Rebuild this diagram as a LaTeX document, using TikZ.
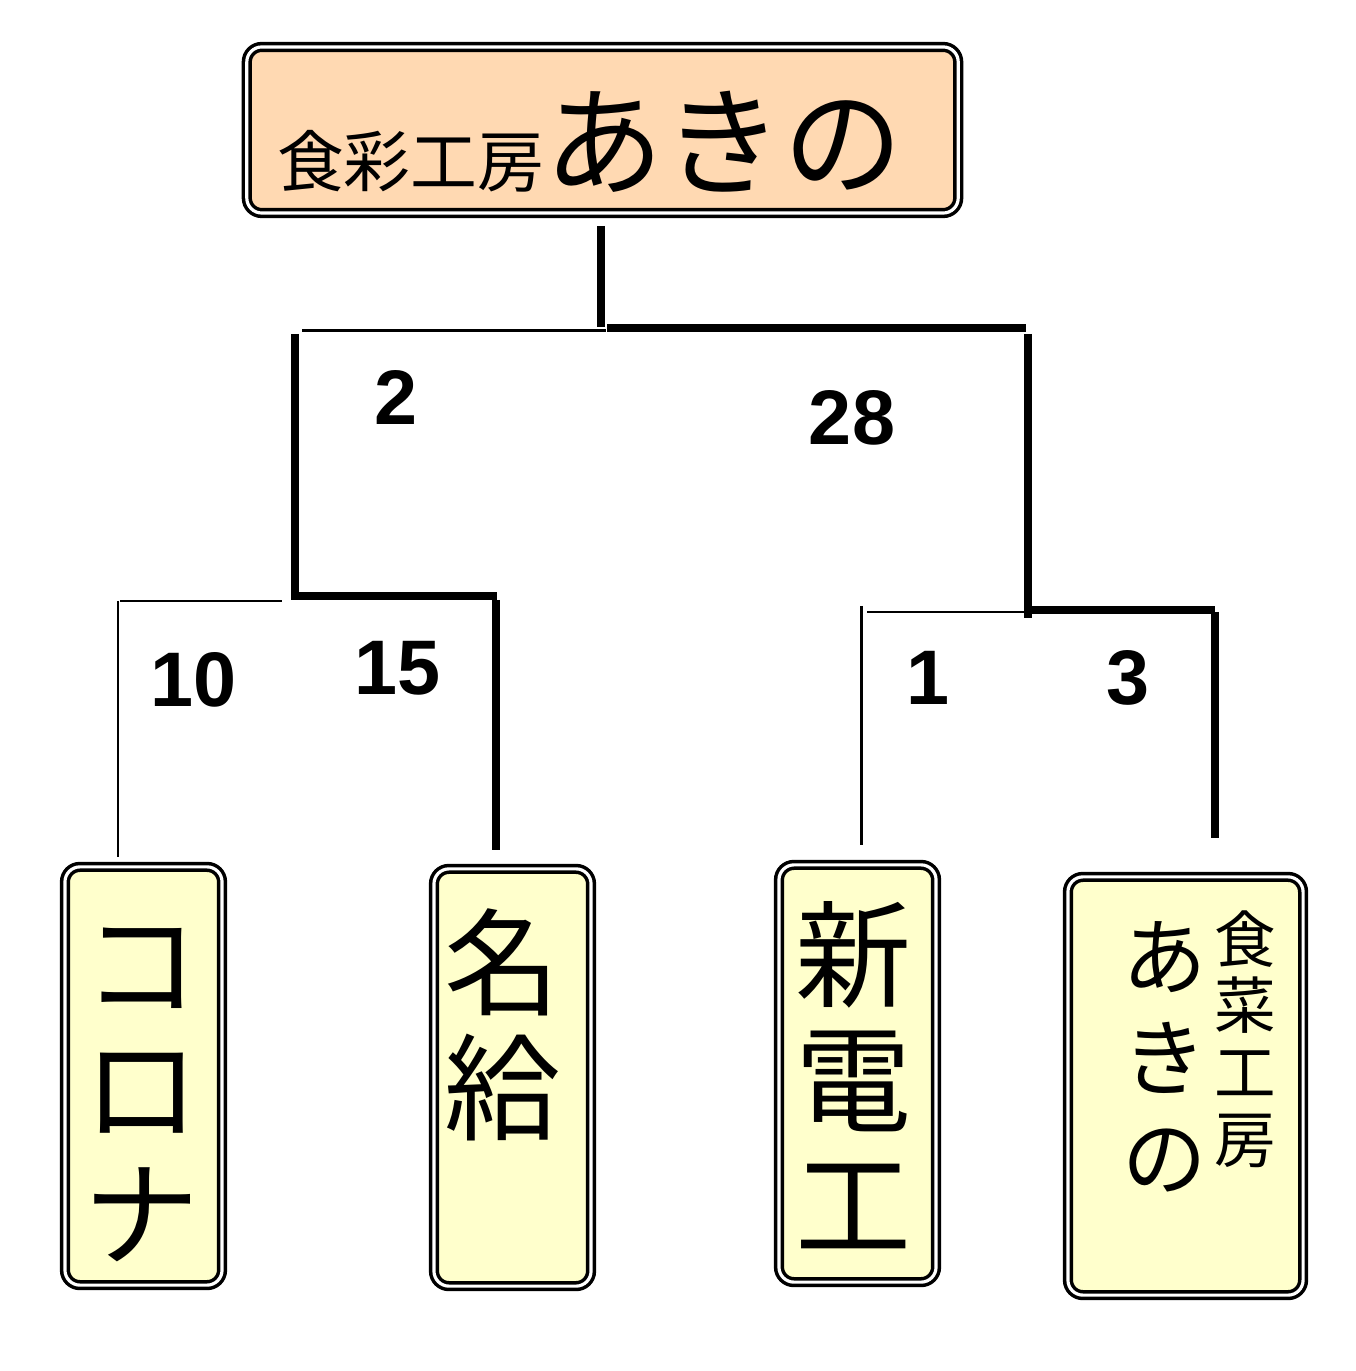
\documentclass[tikz,border=0pt]{standalone}
\usepackage{fontspec}
\newfontfamily\jp{Noto Sans CJK JP}
\setsansfont{Liberation Sans}
\definecolor{peach}{RGB}{255,217,178}
\definecolor{pale}{RGB}{255,255,204}
\begin{document}
\begin{tikzpicture}[x=0.01cm,y=-0.01cm,
  box/.style={draw=black, line width=1pt, double=white, double distance=0.9pt,
    rounded corners=0.15cm, inner sep=0pt, align=center},
  thinline/.style={line width=0.85pt},
  thickline/.style={line width=2.3pt, line join=miter},
  lbl/.style={font=\sffamily\bfseries\fontsize{22pt}{22pt}\selectfont, inner sep=0pt},
  big/.style={font=\jp\fontsize{33pt}{35.5pt}\selectfont, align=center, inner sep=0pt}
]
\useasboundingbox (0,0) rectangle (1355,1371);
% top box
\node[box, fill=peach, minimum width=7.11cm, minimum height=1.66cm] (top) at (602.5,130) {};
\node[inner sep=0pt] (toptext) at (590,142)
  {{\jp\fontsize{19pt}{20pt}\selectfont 食彩工房}{\jp\fontsize{34pt}{36pt}\selectfont あきの}};
% bottom boxes
\node[box, fill=pale, minimum width=1.57cm, minimum height=4.18cm] (A) at (143.5,1076) {};
\node[box, fill=pale, minimum width=1.57cm, minimum height=4.17cm] (B) at (512.5,1077.5) {};
\node[box, fill=pale, minimum width=1.57cm, minimum height=4.17cm] (C) at (857.5,1073.5) {};
\node[box, fill=pale, minimum width=2.35cm, minimum height=4.18cm] (D) at (1185.5,1086) {};
\node[big] (Atext) at (142,1095) {コ\\ロ\\ナ};
\node[big] (Btext) at (503,1025) {名\\給};
\node[big] (Ctext) at (854,1075) {新\\電\\工};
\node[font=\jp\fontsize{24pt}{28.5pt}\selectfont, align=center, inner sep=0pt] (Dmain) at (1165,1057) {あ\\き\\の};
\node[font=\jp\fontsize{17.5pt}{19pt}\selectfont, align=center, inner sep=0pt] (Dsub) at (1245,1039) {食\\菜\\工\\房};
% junction coordinates
\coordinate (s1) at (601,226);
\coordinate (s2) at (601,327);
\coordinate (h1a) at (302,331); \coordinate (h1b) at (606,331);
\coordinate (h2a) at (607,328); \coordinate (h2b) at (1026,328);
\coordinate (lv1) at (295,334); \coordinate (lv2) at (295,596); \coordinate (lv3) at (497,596);
\coordinate (rv1) at (1028,334); \coordinate (rv2) at (1028,618);
\coordinate (la1) at (120,601); \coordinate (la2) at (282,601);
\coordinate (lb1) at (118,601); \coordinate (lb2) at (118,857);
\coordinate (lc1) at (496,600); \coordinate (lc2) at (496,850);
\coordinate (ra1) at (867,612); \coordinate (ra2) at (1024,612);
\coordinate (rb1) at (1030,610); \coordinate (rb2) at (1215,610);
\coordinate (rc1) at (1215,612); \coordinate (rc2) at (1215,838);
\coordinate (rd1) at (861,606); \coordinate (rd2) at (861,845);
% connectors
\draw[thickline, line width=2pt] (s1) -- (s2);
\draw[thinline] (h1a) -- (h1b);
\draw[thickline, line width=2.5pt] (h2a) -- (h2b);
\draw[thickline] (lv1) -- (lv2) -- (lv3);
\draw[thickline] (rv1) -- (rv2);
\draw[thinline] (la1) -- (la2);
\draw[thinline] (lb1) -- (lb2);
\draw[thickline] (lc1) -- (lc2);
\draw[thinline] (ra1) -- (ra2);
\draw[thickline] (rb1) -- (rb2);
\draw[thickline] (rc1) -- (rc2);
\draw[thinline] (rd1) -- (rd2);
% labels
\node[lbl] (n2) at (396,397) {2};
\node[lbl] (n28) at (852,418) {28};
\node[lbl] (n10) at (194,680) {10};
\node[lbl] (n15) at (398,668) {15};
\node[lbl] (n1) at (928,678) {1};
\node[lbl] (n3) at (1128,678) {3};
\end{tikzpicture}
\end{document}
